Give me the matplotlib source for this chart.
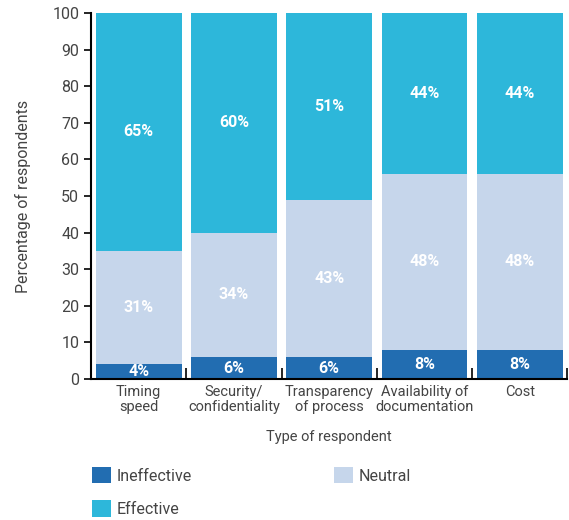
import numpy as np
import matplotlib.pyplot as plt

categories = ["Timing\nspeed", "Security/\nconfidentiality", "Transparency\nof process",
              "Availability of\ndocumentation", "Cost"]
ineffective = [4, 6, 6, 8, 8]
neutral = [31, 34, 43, 48, 48]
effective = [65, 60, 51, 44, 44]

c_ineff = "#226db1"
c_neutral = "#c6d6eb"
c_eff = "#2db7da"
txt = "#444444"
fs = 11.5

plt.rcParams['font.family'] = ['Roboto', 'DejaVu Sans']

fig = plt.figure(figsize=(5.69, 5.2), dpi=100)
ax = fig.add_axes([0.16, 0.271, 0.837, 0.704])

x = np.arange(len(categories))
ineff = np.array(ineffective)
neut = np.array(neutral)
eff = np.array(effective)

b1 = ax.bar(x, ineff, width=0.9, color=c_ineff, label="Ineffective")
b2 = ax.bar(x, neut, width=0.9, bottom=ineff, color=c_neutral, label="Neutral")
b3 = ax.bar(x, eff, width=0.9, bottom=ineff + neut, color=c_eff, label="Effective")

for vals, bottoms in [(ineff, 0 * ineff), (neut, ineff), (eff, ineff + neut)]:
    for xi, v, b in zip(x, vals, bottoms):
        ax.text(xi, b + v / 2, f"{v}%", ha="center", va="center", color="white",
                fontsize=fs, fontweight="bold")

ax.set_xlim(-0.5, 4.5)
ax.set_ylim(0, 100)
ax.set_yticks(range(0, 101, 10))
ax.set_xticks(x)
ax.set_xticklabels(categories, fontsize=10.5, color=txt, linespacing=1.08)
ax.tick_params(axis="x", length=0, pad=4)
ax.set_xticks(np.arange(0.5, 5, 1), minor=True)
ax.tick_params(axis="x", which="minor", direction="in", length=8, width=1.2, color="black")
ax.tick_params(axis="y", labelsize=fs, labelcolor=txt, length=5, width=1.2)

for s in ["top", "right"]:
    ax.spines[s].set_visible(False)
for s in ["left", "bottom"]:
    ax.spines[s].set_linewidth(1.5)

ax.set_xlabel("Type of respondent", fontsize=10.5, color=txt, labelpad=12)
ax.set_ylabel("Percentage of respondents", fontsize=fs, color=txt, labelpad=15)

fig.legend(handles=[b1, b3, b2], labels=["Ineffective", "Effective", "Neutral"],
           loc="upper left", bbox_to_anchor=(0.15, 0.114), ncol=2, frameon=False,
           handlelength=1.2, handleheight=1.2, handletextpad=0.35, columnspacing=8.9,
           labelspacing=1.05, fontsize=fs, labelcolor=txt, borderaxespad=0)

fig.savefig("out.png", dpi=100)
